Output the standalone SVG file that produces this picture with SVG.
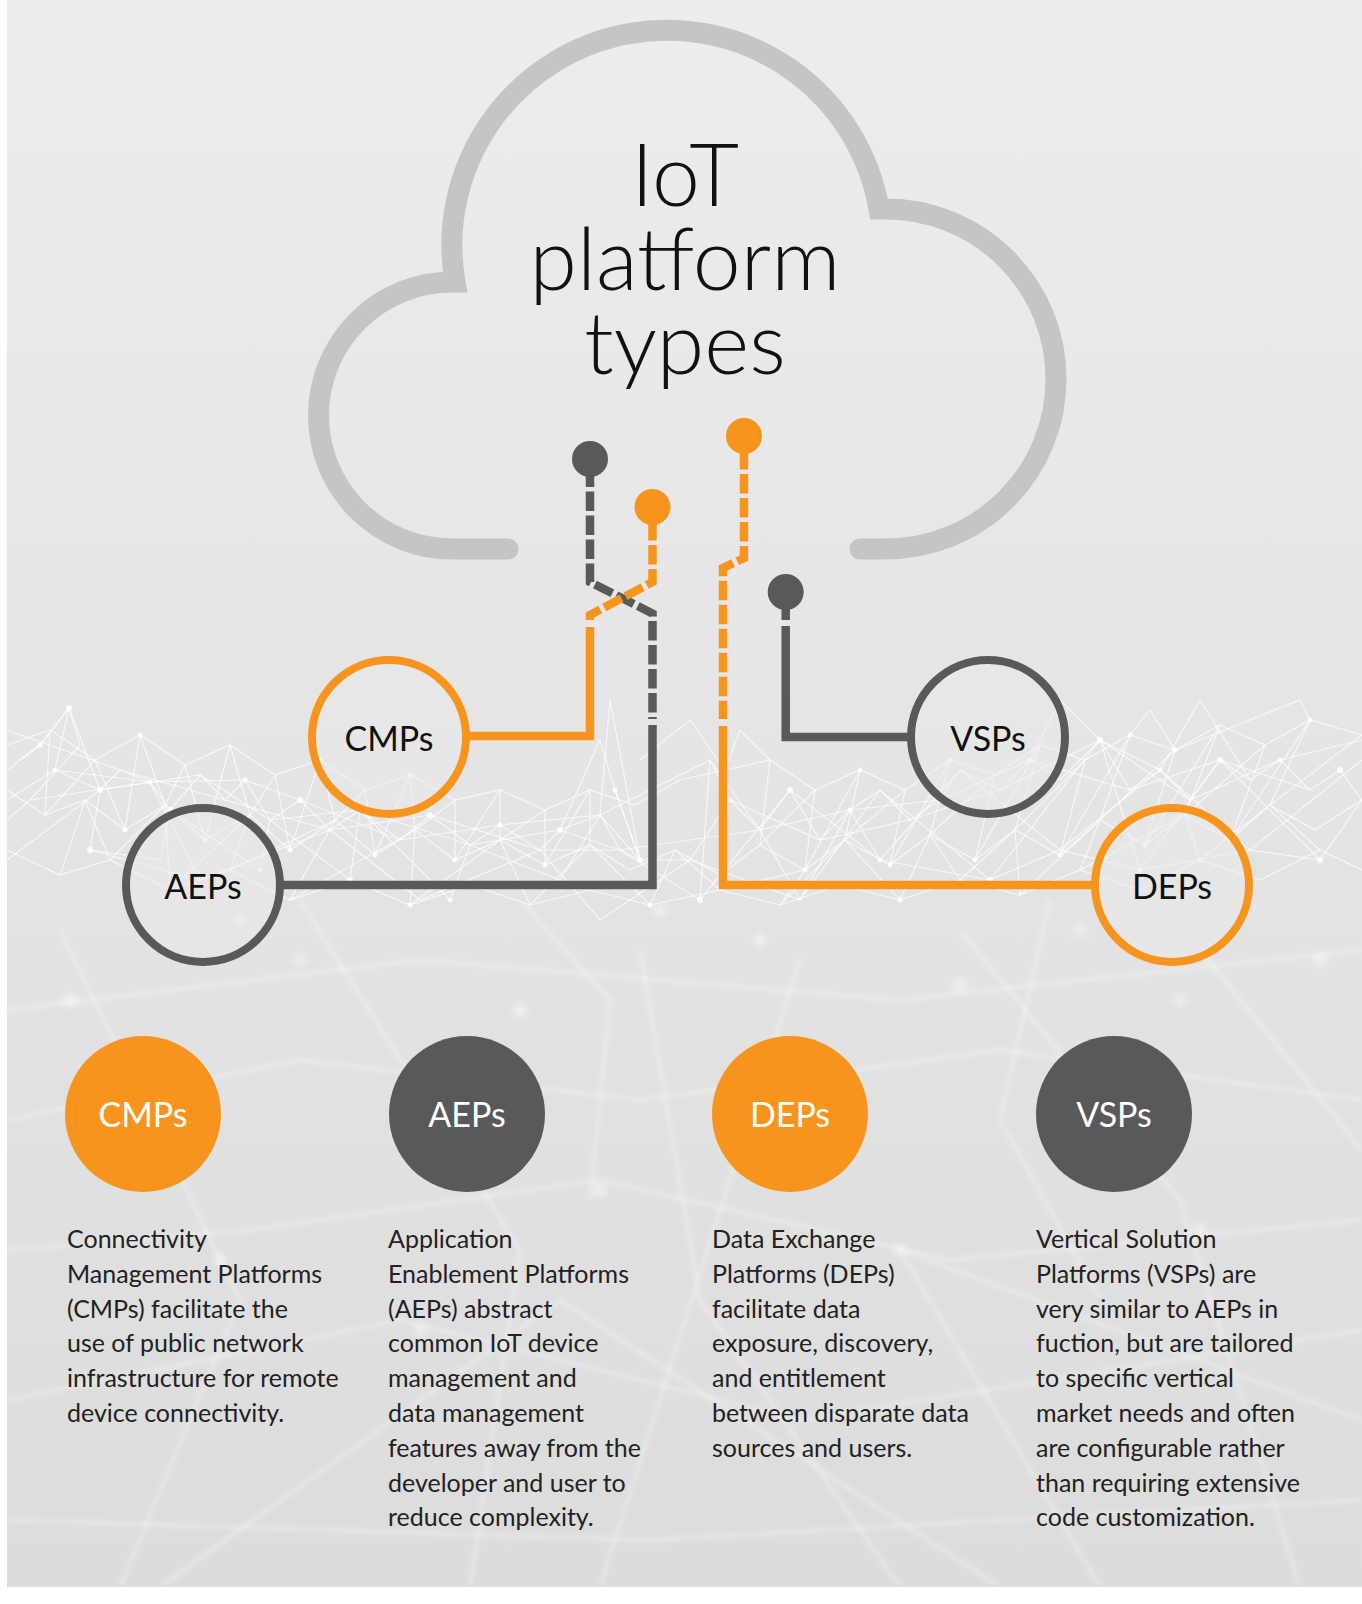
<svg xmlns="http://www.w3.org/2000/svg" width="1362" height="1604" viewBox="0 0 1362 1604">
<defs>
<linearGradient id="bg" x1="0" y1="0" x2="0" y2="1">
<stop offset="0" stop-color="#ededed"/>
<stop offset="0.4" stop-color="#e6e6e6"/>
<stop offset="1" stop-color="#dcdcdc"/>
</linearGradient>
<filter id="blur" x="-10%" y="-10%" width="120%" height="120%"><feGaussianBlur stdDeviation="2"/></filter>
<filter id="glow" x="-50%" y="-50%" width="200%" height="200%"><feGaussianBlur stdDeviation="3"/></filter>
</defs>
<style>
.title{font-family:"Lato","Open Sans",sans-serif;font-weight:300;font-size:86px;fill:#111;text-anchor:middle}
.lbl{font-family:"Lato","Open Sans",sans-serif;font-size:34px;fill:#111;text-anchor:middle}
.lblw{font-family:"Lato","Open Sans",sans-serif;font-size:34px;fill:#fff;text-anchor:middle}
.body{font-family:"Lato","Open Sans",sans-serif;font-size:25px;fill:#222}
.ring{stroke-width:8;fill:#e9e9e9;fill-opacity:0.5}
.o{stroke:#f7941d}
.g{stroke:#58595b}
.ln{fill:none;stroke-width:8.5}
.dash{stroke-dasharray:19.5 4.5}
.net{fill:none;stroke:#fff;stroke-width:1.2;stroke-opacity:0.7}
.netb{fill:none;stroke:#fff;stroke-width:4;stroke-opacity:0.3;filter:url(#blur)}
.nd{fill:#fff;fill-opacity:0.85}
.gl{fill:#fff;fill-opacity:0.45;filter:url(#glow)}
</style>
<rect x="0" y="0" width="1362" height="1604" fill="#ffffff"/>
<rect x="7" y="0" width="1355" height="1587" fill="url(#bg)"/>

<g id="network">
<g class="netb">
<path d="M7 1010 L420 960 L900 1000 L1362 950"/>
<path d="M7 1120 L300 1060 L640 1100 L1000 1050 L1362 1100"/>
<path d="M60 930 L240 1300 L120 1587"/>
<path d="M300 900 L520 1250 L470 1587"/>
<path d="M640 950 L700 1300 L900 1587"/>
<path d="M960 930 L1180 1200 L1300 1587"/>
<path d="M1200 950 L1362 1150"/>
<path d="M7 1400 L400 1320 L800 1420 L1362 1330"/>
<path d="M7 1250 L250 1230 L600 1180 L950 1260 L1362 1220"/>
<path d="M160 1587 L560 1300 L1000 1587"/>
<path d="M1100 1587 L900 1250 L1362 1420"/>
<path d="M7 1520 L650 1540 L1362 1500"/>
<path d="M800 960 L600 1587"/>
<path d="M520 900 L610 1000 L590 1200"/>
<path d="M1050 900 L1000 1120 L1100 1300"/>
</g>
<g class="gl">
<circle cx="70" cy="1000" r="7"/><circle cx="300" cy="960" r="6"/><circle cx="520" cy="1010" r="7"/><circle cx="760" cy="940" r="6"/>
<circle cx="960" cy="985" r="7"/><circle cx="1180" cy="1000" r="6"/><circle cx="1320" cy="960" r="7"/><circle cx="220" cy="1260" r="6"/>
<circle cx="600" cy="1190" r="7"/><circle cx="900" cy="1250" r="6"/><circle cx="1200" cy="1230" r="7"/><circle cx="420" cy="1330" r="6"/>
<circle cx="240" cy="920" r="6"/><circle cx="660" cy="910" r="6"/><circle cx="1080" cy="930" r="6"/>
</g>
<g class="net">
<polyline points="7,770 40,745 69,708 55,770 100,790 120,770 150,782 170,810 200,775 225,800 245,780 270,820 300,800 330,830 360,810 400,840 430,815 470,845 500,825 540,850 560,830 600,815 620,850 640,860 690,860 730,800 760,830 790,790 820,840 850,810 880,790 910,820 940,800 960,770 1000,790 1030,760 1060,780 1100,740 1130,790 1160,770 1190,800 1220,760 1250,780 1280,760 1310,790 1340,770 1362,800"/>
<polyline points="7,820 30,800 80,745 69,708 40,745 20,760"/>
<polyline points="69,708 100,790 90,850 160,860 170,810 260,870 270,820 350,880 360,810 450,900 470,845 560,880 600,815 640,860 615,790 600,740 560,830"/>
<polyline points="7,730 120,770 225,800 330,830 430,815 540,850 620,850 700,900 790,790 880,860 960,770 1060,850 1160,770 1250,850 1362,760"/>
<polyline points="30,800 150,782 245,780 300,800 400,840 500,825 600,815 710,760 730,800 820,840 910,820 1000,790 1100,740 1190,800 1280,760 1362,740"/>
<polyline points="7,860 100,790 200,775 270,820 360,810 470,845 560,830 620,850 760,830 850,810 940,800 1030,760 1130,790 1220,760 1310,790"/>
<polyline points="90,850 200,880 330,830 420,900 540,850 600,920 690,860 800,900 880,790 990,880 1100,740 1140,870 1220,760 1320,860 1362,800"/>
<polyline points="700,900 710,760 760,830 800,900 850,810 880,860 990,880 1060,850 1140,870 1250,850 1320,860"/>
<polyline points="615,790 640,860 610,700 600,815"/>
<polyline points="1030,760 1060,700 1100,740 1160,770 1200,700 1250,780"/>
<polyline points="7,800 55,770 150,782 200,880"/>
<polyline points="7,790 45,815 85,800 125,830 165,805 205,840 250,815 290,850 335,820 375,855 415,830 455,860 500,840 545,865 590,845 630,870 675,850 720,875 760,845 805,870 845,840 890,865 930,835 975,860 1015,830 1060,855 1100,820 1145,845 1185,815 1230,840 1270,805 1315,830 1362,800"/>
<polyline points="7,745 50,730 95,760 140,735 185,765 230,745 275,775 320,760 365,790 410,775 455,800 500,790 545,810 590,790 635,805 680,780 725,770 770,760 815,790 860,770 905,790 950,760 995,775 1040,745 1085,760 1130,735 1175,750 1220,725 1265,745 1310,720 1362,735"/>
<polyline points="7,850 60,875 110,860 170,890 230,870 290,900 350,880 410,905 470,885 530,905 590,890 650,905 720,890 780,905 840,885 900,900 960,880 1020,895 1080,870 1140,890 1200,860 1260,880 1320,850 1362,870"/>
<polyline points="50,730 45,815 95,760 125,830 140,735 165,805 185,765 205,840 230,745 250,815 275,775 290,850 320,760 335,820 365,790 375,855 410,775 415,830 455,800 455,860 500,790 500,840 545,810 545,865 590,790 590,845"/>
<polyline points="770,760 760,845 815,790 805,870 860,770 845,840 905,790 890,865 950,760 930,835 995,775 975,860 1040,745 1015,830 1085,760 1060,855 1130,735 1100,820 1175,750 1145,845 1220,725 1185,815 1265,745 1230,840 1310,720 1270,805 1362,735"/>
<polyline points="60,875 85,800 110,860 165,805 170,890 250,815 230,870 335,820 290,900 415,830 410,905 500,840 530,905 590,845 650,905 675,850 720,890 805,870 780,905 845,840 900,900 930,835 960,880 1015,830 1020,895 1100,820 1080,870 1185,815 1200,860 1270,805 1320,850"/>
<polyline points="1130,735 1150,710 1175,750 1300,700 1310,720"/>
<polyline points="640,760 690,720 725,770 740,730 770,760"/>
</g>
<g class="nd">
<circle cx="69" cy="708" r="3"/><circle cx="40" cy="745" r="2.5"/><circle cx="55" cy="770" r="2.5"/><circle cx="100" cy="790" r="3"/>
<circle cx="150" cy="782" r="2.5"/><circle cx="170" cy="810" r="3"/><circle cx="245" cy="780" r="2.5"/><circle cx="300" cy="800" r="3"/>
<circle cx="360" cy="810" r="2.5"/><circle cx="430" cy="815" r="3"/><circle cx="500" cy="825" r="2.5"/><circle cx="560" cy="830" r="3"/>
<circle cx="615" cy="790" r="2.5"/><circle cx="640" cy="860" r="3"/><circle cx="730" cy="800" r="2.5"/><circle cx="790" cy="790" r="3"/>
<circle cx="850" cy="810" r="2.5"/><circle cx="940" cy="800" r="3"/><circle cx="1030" cy="760" r="2.5"/><circle cx="1100" cy="740" r="3"/>
<circle cx="1160" cy="770" r="2.5"/><circle cx="1220" cy="760" r="3"/><circle cx="1280" cy="760" r="2.5"/><circle cx="1340" cy="770" r="3"/>
<circle cx="90" cy="850" r="3"/><circle cx="260" cy="870" r="2.5"/><circle cx="350" cy="880" r="3"/><circle cx="450" cy="900" r="2.5"/>
<circle cx="700" cy="900" r="3"/><circle cx="880" cy="860" r="2.5"/><circle cx="990" cy="880" r="3"/><circle cx="1140" cy="870" r="2.5"/><circle cx="1320" cy="860" r="3"/>
<circle cx="125" cy="830" r="2.5"/><circle cx="205" cy="840" r="2.5"/><circle cx="290" cy="850" r="2.5"/><circle cx="375" cy="855" r="2.5"/>
<circle cx="455" cy="860" r="2.5"/><circle cx="545" cy="865" r="2.5"/><circle cx="805" cy="870" r="2.5"/><circle cx="890" cy="865" r="2.5"/>
<circle cx="975" cy="860" r="2.5"/><circle cx="1060" cy="855" r="2.5"/><circle cx="1145" cy="845" r="2.5"/><circle cx="1230" cy="840" r="2.5"/>
<circle cx="140" cy="735" r="2.5"/><circle cx="320" cy="760" r="2.5"/><circle cx="410" cy="775" r="2.5"/><circle cx="860" cy="770" r="2.5"/>
<circle cx="950" cy="760" r="2.5"/><circle cx="1130" cy="735" r="2.5"/><circle cx="1310" cy="720" r="2.5"/><circle cx="1175" cy="750" r="2.5"/>
<circle cx="170" cy="890" r="2.5"/><circle cx="410" cy="905" r="2.5"/><circle cx="650" cy="905" r="2.5"/><circle cx="900" cy="900" r="2.5"/><circle cx="1200" cy="860" r="2.5"/>
</g>
</g>

<g id="cloud">
<path d="M508 549 H452 A133 133 0 0 1 452 282 H455 A215 215 0 1 1 879 209 H886 A170 170 0 0 1 886 549 H860" fill="none" stroke="#c4c5c7" stroke-width="21" stroke-linecap="round"/>
</g>

<g id="title">
<text class="title"><tspan x="685" y="206">IoT</tspan><tspan x="685" y="290">platform</tspan><tspan x="685" y="374">types</tspan></text>
</g>

<g id="connectors">
<path class="ln g dash" style="stroke-dashoffset:15.5" d="M590 459 V582 L652.5 613.5 V719"/>
<path class="ln g" d="M652.5 725 V885 H280"/>
<path class="ln o dash" style="stroke-dashoffset:10" d="M652.5 507 V582 L590 615 V620"/>
<path class="ln o" d="M590 627 V736 H466"/>
<path class="ln o dash" style="stroke-dashoffset:10" d="M744 436 V558 L723 568 V719"/>
<path class="ln o" d="M723 726 V885 H1095"/>
<path class="ln g" d="M785.7 592 V620"/>
<path class="ln g" d="M785.7 626 V737 H911"/>
<circle cx="590" cy="459" r="18" fill="#58595b"/>
<circle cx="652.5" cy="507" r="18" fill="#f7941d"/>
<circle cx="744" cy="436" r="18" fill="#f7941d"/>
<circle cx="785.7" cy="592" r="18" fill="#58595b"/>
</g>

<g id="node-cmps">
<circle class="ring o" cx="389" cy="737" r="77"/>
<text class="lbl" x="389" y="751">CMPs</text>
</g>
<g id="node-aeps">
<circle class="ring g" cx="203" cy="885" r="77"/>
<text class="lbl" x="203" y="899">AEPs</text>
</g>
<g id="node-vsps">
<circle class="ring g" cx="988" cy="737" r="77"/>
<text class="lbl" x="988" y="751">VSPs</text>
</g>
<g id="node-deps">
<circle class="ring o" cx="1172" cy="885" r="77"/>
<text class="lbl" x="1172" y="899">DEPs</text>
</g>

<g id="card-cmps">
<circle cx="143" cy="1114" r="78" fill="#f7941d"/>
<text class="lblw" x="143" y="1127">CMPs</text>
<text class="body" x="67" y="1248">Connectivity</text>
<text class="body" x="67" y="1282.8">Management Platforms</text>
<text class="body" x="67" y="1317.6">(CMPs) facilitate the</text>
<text class="body" x="67" y="1352.4">use of public network</text>
<text class="body" x="67" y="1387.2">infrastructure for remote</text>
<text class="body" x="67" y="1422">device connectivity.</text>
</g>
<g id="card-aeps">
<circle cx="467" cy="1114" r="78" fill="#58595b"/>
<text class="lblw" x="467" y="1127">AEPs</text>
<text class="body" x="388" y="1248">Application</text>
<text class="body" x="388" y="1282.8">Enablement Platforms</text>
<text class="body" x="388" y="1317.6">(AEPs) abstract</text>
<text class="body" x="388" y="1352.4">common IoT device</text>
<text class="body" x="388" y="1387.2">management and</text>
<text class="body" x="388" y="1422">data management</text>
<text class="body" x="388" y="1456.8">features away from the</text>
<text class="body" x="388" y="1491.6">developer and user to</text>
<text class="body" x="388" y="1526.4">reduce complexity.</text>
</g>
<g id="card-deps">
<circle cx="790" cy="1114" r="78" fill="#f7941d"/>
<text class="lblw" x="790" y="1127">DEPs</text>
<text class="body" x="712" y="1248">Data Exchange</text>
<text class="body" x="712" y="1282.8">Platforms (DEPs)</text>
<text class="body" x="712" y="1317.6">facilitate data</text>
<text class="body" x="712" y="1352.4">exposure, discovery,</text>
<text class="body" x="712" y="1387.2">and entitlement</text>
<text class="body" x="712" y="1422">between disparate data</text>
<text class="body" x="712" y="1456.8">sources and users.</text>
</g>
<g id="card-vsps">
<circle cx="1114" cy="1114" r="78" fill="#58595b"/>
<text class="lblw" x="1114" y="1127">VSPs</text>
<text class="body" x="1036" y="1248">Vertical Solution</text>
<text class="body" x="1036" y="1282.8">Platforms (VSPs) are</text>
<text class="body" x="1036" y="1317.6">very similar to AEPs in</text>
<text class="body" x="1036" y="1352.4">fuction, but are tailored</text>
<text class="body" x="1036" y="1387.2">to specific vertical</text>
<text class="body" x="1036" y="1422">market needs and often</text>
<text class="body" x="1036" y="1456.8">are configurable rather</text>
<text class="body" x="1036" y="1491.6">than requiring extensive</text>
<text class="body" x="1036" y="1526.4">code customization.</text>
</g>
</svg>
